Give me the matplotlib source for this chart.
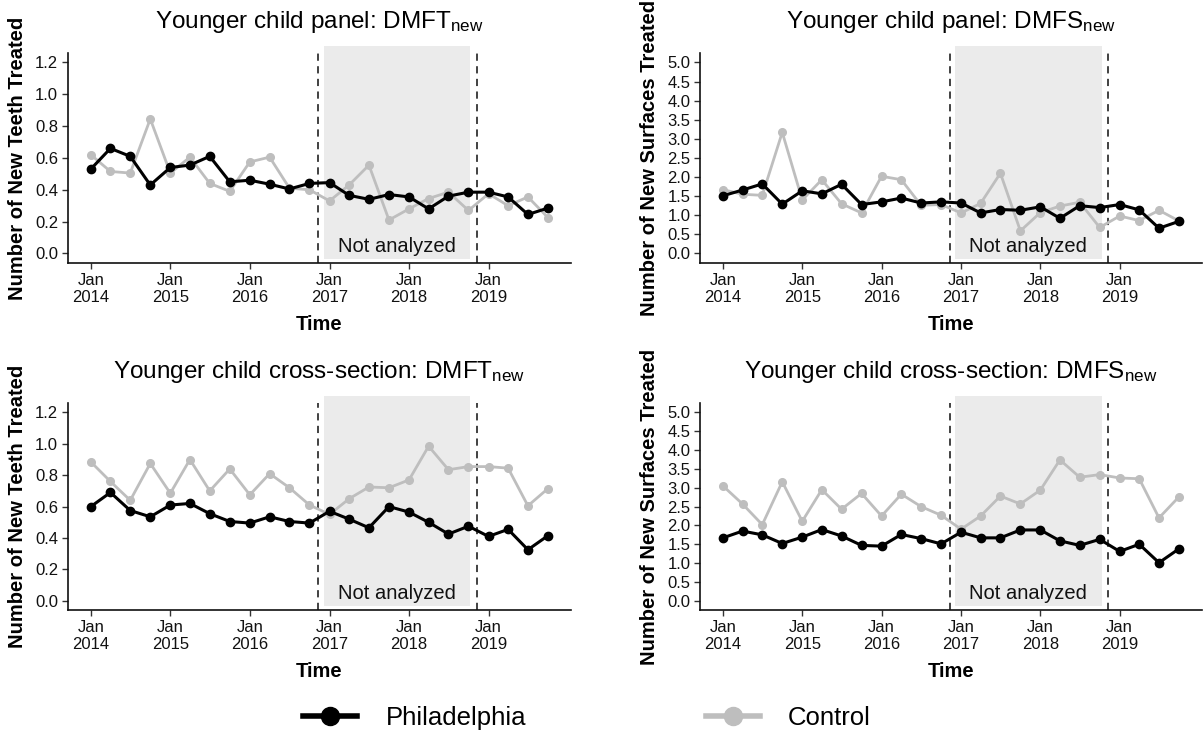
import numpy as np
import pandas as pd
import matplotlib
matplotlib.use('Agg')
from matplotlib import pyplot as plt
from matplotlib.lines import Line2D

plt.rcParams['font.family'] = ['Liberation Sans', 'DejaVu Sans']
plt.rcParams['mathtext.fontset'] = 'custom'
plt.rcParams['mathtext.rm'] = 'Liberation Sans'
plt.rcParams['mathtext.it'] = 'Liberation Sans:italic'
plt.rcParams['mathtext.bf'] = 'Liberation Sans:bold'

# quarterly time points, Jan 2014 .. Oct 2019
dates = pd.date_range('2014-01-01', '2019-10-01', freq='QS')

# panel: DMFT
phl_dmft_panel = [0.53, 0.66, 0.61, 0.43, 0.54, 0.555, 0.61, 0.45, 0.46, 0.435, 0.405, 0.44,
                  0.445, 0.365, 0.34, 0.37, 0.355, 0.28, 0.36, 0.385, 0.385, 0.355, 0.245, 0.285]
ctl_dmft_panel = [0.62, 0.515, 0.505, 0.845, 0.505, 0.605, 0.44, 0.39, 0.575, 0.605, 0.41, 0.40,
                  0.33, 0.43, 0.555, 0.21, 0.28, 0.345, 0.385, 0.27, 0.375, 0.30, 0.355, 0.225]
# panel: DMFS
phl_dmfs_panel = [1.51, 1.66, 1.82, 1.29, 1.64, 1.56, 1.81, 1.28, 1.35, 1.45, 1.32, 1.35,
                  1.32, 1.06, 1.15, 1.13, 1.22, 0.92, 1.25, 1.20, 1.28, 1.14, 0.66, 0.84]
ctl_dmfs_panel = [1.67, 1.55, 1.52, 3.17, 1.40, 1.93, 1.30, 1.06, 2.02, 1.93, 1.26, 1.28,
                  1.06, 1.31, 2.10, 0.59, 1.07, 1.24, 1.34, 0.68, 0.98, 0.86, 1.13, 0.85]
# cross-section: DMFT
phl_dmft_cross = [0.60, 0.69, 0.575, 0.535, 0.61, 0.62, 0.555, 0.505, 0.495, 0.535, 0.505, 0.495,
                  0.57, 0.52, 0.465, 0.60, 0.565, 0.50, 0.425, 0.475, 0.41, 0.455, 0.325, 0.415]
ctl_dmft_cross = [0.885, 0.76, 0.64, 0.875, 0.685, 0.90, 0.70, 0.84, 0.675, 0.81, 0.72, 0.61,
                  0.55, 0.65, 0.725, 0.72, 0.77, 0.985, 0.835, 0.855, 0.855, 0.845, 0.605, 0.715]
# cross-section: DMFS
phl_dmfs_cross = [1.67, 1.85, 1.75, 1.52, 1.69, 1.89, 1.72, 1.47, 1.45, 1.76, 1.65, 1.51,
                  1.82, 1.67, 1.67, 1.88, 1.88, 1.59, 1.47, 1.63, 1.31, 1.50, 1.01, 1.38]
ctl_dmfs_cross = [3.05, 2.57, 2.02, 3.16, 2.11, 2.95, 2.43, 2.85, 2.25, 2.83, 2.50, 2.27,
                  1.90, 2.25, 2.78, 2.57, 2.94, 3.74, 3.28, 3.35, 3.26, 3.24, 2.20, 2.76]

titles = [r'Younger child panel: DMFT$_{\mathrm{new}}$',
          r'Younger child panel: DMFS$_{\mathrm{new}}$',
          r'Younger child cross-section: DMFT$_{\mathrm{new}}$',
          r'Younger child cross-section: DMFS$_{\mathrm{new}}$']
ylabels = ['Number of New Teeth Treated', 'Number of New Surfaces Treated'] * 2
series = [(phl_dmft_panel, ctl_dmft_panel), (phl_dmfs_panel, ctl_dmfs_panel),
          (phl_dmft_cross, ctl_dmft_cross), (phl_dmfs_cross, ctl_dmfs_cross)]
ymaxs = [1.2, 5.0, 1.2, 5.0]
ysteps = [0.2, 0.5, 0.2, 0.5]

year_ticks = pd.date_range('2014-01-01', '2019-01-01', freq='YS')
year_labels = ['Jan\n%d' % d.year for d in year_ticks]

gap_start, gap_end = pd.Timestamp('2016-12-05'), pd.Timestamp('2018-10-10')
cut_lines = [pd.Timestamp('2016-11-10'), pd.Timestamp('2018-11-08')]

black = '#000000'
grey = '#BEBEBE'

fig = plt.figure(figsize=(12.03, 7.45), dpi=100)
boxes = [(0.0565, 0.647, 0.418, 0.282), (0.582, 0.647, 0.417, 0.282),
         (0.0565, 0.181, 0.418, 0.278), (0.582, 0.181, 0.417, 0.278)]

span = dates[-1] - dates[0]
for i, box in enumerate(boxes):
    ax = fig.add_axes(box)
    phl, ctl = series[i]
    ymax = ymaxs[i]

    ax.axvspan(gap_start, gap_end, ymin=0.018, ymax=1.033, color='#EBEBEB',
               lw=0, zorder=0, clip_on=False)
    for d in cut_lines:
        ax.axvline(d, color='#333333', lw=1.3, ls=(0, (4, 3)), zorder=1)
    ax.text(gap_start + (gap_end - gap_start) / 2, 0.037 * ymax, 'Not analyzed',
            ha='center', va='center', fontsize=14.5, color='#111111', zorder=2)

    ax.plot(dates, ctl, color=grey, lw=2.0, marker='o', ms=5.5, zorder=3)
    ax.plot(dates, phl, color=black, lw=2.2, marker='o', ms=6, zorder=4)

    ax.set_xlim(dates[0] - 0.05 * span, dates[-1] + 0.05 * span)
    ax.set_ylim(-0.05 * ymax, 1.05 * ymax)
    ax.set_xticks(year_ticks)
    ax.set_xticklabels(year_labels)
    yt = np.arange(0, ymax + 1e-9, ysteps[i])
    ax.set_yticks(yt)
    ax.set_yticklabels(['%.1f' % v for v in yt])
    ax.tick_params(labelsize=12, colors='#333333', labelcolor='#111111', length=4, width=1,
                   pad=3)

    for s in ['top', 'right']:
        ax.spines[s].set_visible(False)
    for s in ['left', 'bottom']:
        ax.spines[s].set_linewidth(1.2)
        ax.spines[s].set_color('#111111')

    ax.set_title(titles[i], fontsize=17.5, pad=18)
    ax.set_ylabel(ylabels[i], fontsize=14.5, fontweight='bold', labelpad=6)
    ax.set_xlabel('Time', fontsize=14.5, fontweight='bold', labelpad=7)

handles = [Line2D([], [], color=black, lw=4, marker='o', ms=13),
           Line2D([], [], color=grey, lw=4, marker='o', ms=13)]
fig.legend(handles, ['Philadelphia', 'Control'], loc='center', bbox_to_anchor=(0.488, 0.036),
           ncol=2, frameon=False, fontsize=18.5, handlelength=2.1, handletextpad=1.1,
           columnspacing=7)

fig.savefig('out.png', dpi=100)
